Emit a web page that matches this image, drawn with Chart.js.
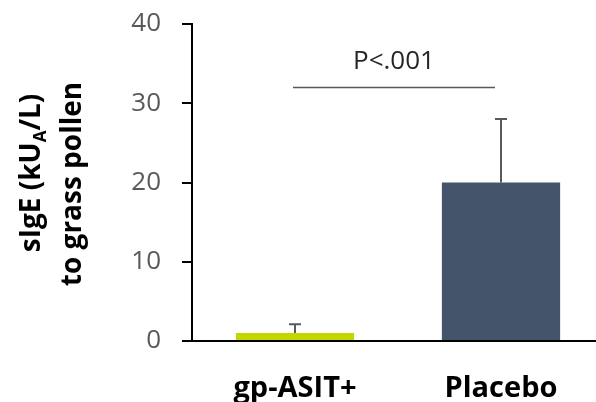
<!DOCTYPE html>
<html>
<head>
<meta charset="utf-8">
<script src="https://cdn.jsdelivr.net/npm/chart.js@4"></script>
<style>
  html, body { margin: 0; padding: 0; background: #fff; overflow: hidden; }
  #wrap { position: absolute; left: 0; top: 0; }
</style>
</head>
<body>
<div id="wrap"><canvas id="chart" width="604" height="410"></canvas></div>
<script>
// Data
const groups = ['gp-ASIT+', 'Placebo'];
const meanIgE = [1.0, 20];
const errUp = [1.1, 8];
const barColors = ['#C4D600', '#44546A'];
const yTicks = [0, 10, 20, 30, 40];
const sigLevel = 32;
const sigText = 'P<.001';

const FONT = '"Open Sans", "Noto Sans", sans-serif';

// error bars (upward only) drawn from the scale
const errorBars = {
  id: 'errorBars',
  afterDatasetsDraw(chart) {
    const ctx = chart.ctx;
    const y = chart.scales.y;
    const meta = chart.getDatasetMeta(0);
    ctx.save();
    ctx.strokeStyle = '#595959';
    ctx.lineWidth = 2;
    meta.data.forEach((bar, i) => {
      const top = y.getPixelForValue(meanIgE[i] + errUp[i]);
      ctx.beginPath();
      ctx.moveTo(bar.x, bar.y);
      ctx.lineTo(bar.x, top);
      ctx.moveTo(bar.x - 6, top);
      ctx.lineTo(bar.x + 6, top);
      ctx.stroke();
    });
    ctx.restore();
  }
};

// significance line + label
const sigBracket = {
  id: 'sigBracket',
  afterDraw(chart) {
    const ctx = chart.ctx;
    const x = chart.scales.x, y = chart.scales.y;
    const x0 = x.getPixelForValue(0) - 2;
    const x1 = x.getPixelForValue(1) - 6;
    const yy = y.getPixelForValue(sigLevel);
    ctx.save();
    ctx.strokeStyle = '#595959';
    ctx.lineWidth = 1.5;
    ctx.beginPath();
    ctx.moveTo(x0, yy);
    ctx.lineTo(x1, yy);
    ctx.stroke();
    ctx.fillStyle = '#262626';
    ctx.font = '26px ' + FONT;
    ctx.textAlign = 'center';
    ctx.textBaseline = 'alphabetic';
    ctx.fillText(sigText, (x0 + x1) / 2, yy - 18);
    ctx.restore();
  }
};

// rotated y title with subscript A
const yTitle = {
  id: 'yTitle',
  afterDraw(chart) {
    const ctx = chart.ctx;
    const big = 'bold 28px ' + FONT;
    const small = 'bold 17px ' + FONT;
    const parts = [['sIgE (kU', big, 0], ['A', small, 6], ['/L)', big, 0]];
    ctx.save();
    ctx.fillStyle = '#000';
    ctx.textBaseline = 'alphabetic';
    ctx.textAlign = 'left';
    // line 1
    ctx.save();
    ctx.translate(40, 173);
    ctx.rotate(-Math.PI / 2);
    let total = 0;
    parts.forEach(p => { ctx.font = p[1]; total += ctx.measureText(p[0]).width; });
    let cx = -total / 2;
    parts.forEach(p => {
      ctx.font = p[1];
      ctx.fillText(p[0], cx, p[2]);
      cx += ctx.measureText(p[0]).width;
    });
    ctx.restore();
    // line 2
    ctx.save();
    ctx.translate(81, 184);
    ctx.rotate(-Math.PI / 2);
    ctx.font = big;
    ctx.textAlign = 'center';
    ctx.fillText('to grass pollen', 0, 0);
    ctx.restore();
    ctx.restore();
  }
};

new Chart(document.getElementById('chart'), {
  type: 'bar',
  data: {
    labels: groups,
    datasets: [{
      data: meanIgE,
      backgroundColor: barColors,
      borderWidth: 0,
      barPercentage: 0.574,
      categoryPercentage: 1
    }]
  },
  options: {
    responsive: false,
    animation: false,
    layout: { padding: { left: 129, top: 24, right: 0, bottom: 0 } },
    plugins: { legend: { display: false }, tooltip: { enabled: false } },
    scales: {
      x: {
        grid: { display: false, drawTicks: false },
        border: { display: true, color: '#000', width: 2 },
        ticks: {
          color: '#000',
          padding: 30,
          font: { family: FONT, size: 29, weight: 'bold' }
        },
        afterFit(scale) { scale.height = 69; }
      },
      y: {
        min: 0,
        max: 40,
        afterBuildTicks(scale) { scale.ticks = yTicks.map(v => ({ value: v })); },
        grid: { display: true, drawOnChartArea: false, drawTicks: true, tickLength: 10, color: '#000', lineWidth: 2 },
        border: { display: true, color: '#000', width: 2 },
        ticks: {
          color: '#595959',
          padding: 21,
          font: { family: FONT, size: 26 }
        },
        afterFit(scale) { scale.width = 63; scale.paddingTop = 0; scale.paddingBottom = 0; }
      }
    }
  },
  plugins: [errorBars, sigBracket, yTitle]
});
</script>
</body>
</html>
